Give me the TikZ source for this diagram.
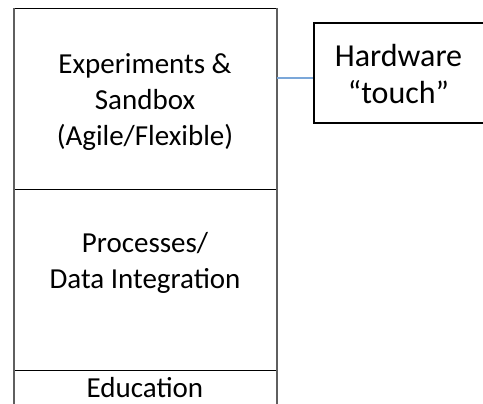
\documentclass[tikz,border=0pt]{standalone}
\usepackage{fontspec}
\setmainfont{Carlito}
\definecolor{vgray}{HTML}{5F5F5F}
\definecolor{linkblue}{HTML}{7BA7D9}
\begin{document}
\begin{tikzpicture}[x=1pt,y=-1pt,
  lbl/.style={font=\fontsize{29}{36}\selectfont, align=center, inner sep=0pt},
  hwlbl/.style={font=\fontsize{32}{37}\selectfont, align=center, inner sep=0pt},
  layer/.style={rectangle, draw=black, line width=1pt, minimum width=262pt, inner sep=0pt, anchor=north west},
  vline/.style={draw=vgray, line width=1.8pt},
  hwbox/.style={rectangle, draw=black, line width=1.6pt, minimum width=172pt, minimum height=100pt, inner sep=0pt, anchor=north west},
  conn/.style={draw=linkblue, line width=1.5pt}
]
\useasboundingbox (0,0) rectangle (483,404);
\clip (0,0) rectangle (483,404);
\node[layer, minimum height=180.5pt] (exp) at (14,8.5) {};
\node[layer, minimum height=181pt] (proc) at (14,189) {};
\node[layer, minimum height=50pt] (edu) at (14,370) {};
\draw[vline] (exp.north west) -- (edu.south west);
\draw[vline] (exp.north east) -- (edu.south east);
\node[hwbox] (hw) at (313,22) {};
\coordinate (cy) at (0,78);
\draw[conn] (exp.east |- cy) -- (hw.west |- cy);
\node[lbl] (t1) at (145,102) {Experiments \&\\Sandbox\\(Agile/Flexible)};
\node[lbl] (t2) at (145,263) {Processes/\\Data Integration};
\node[lbl, anchor=base] (t3) at (145,397) {Education};
\node[hwlbl] (t4) at (398.5,74) {Hardware\\“touch”};
\end{tikzpicture}
\end{document}
